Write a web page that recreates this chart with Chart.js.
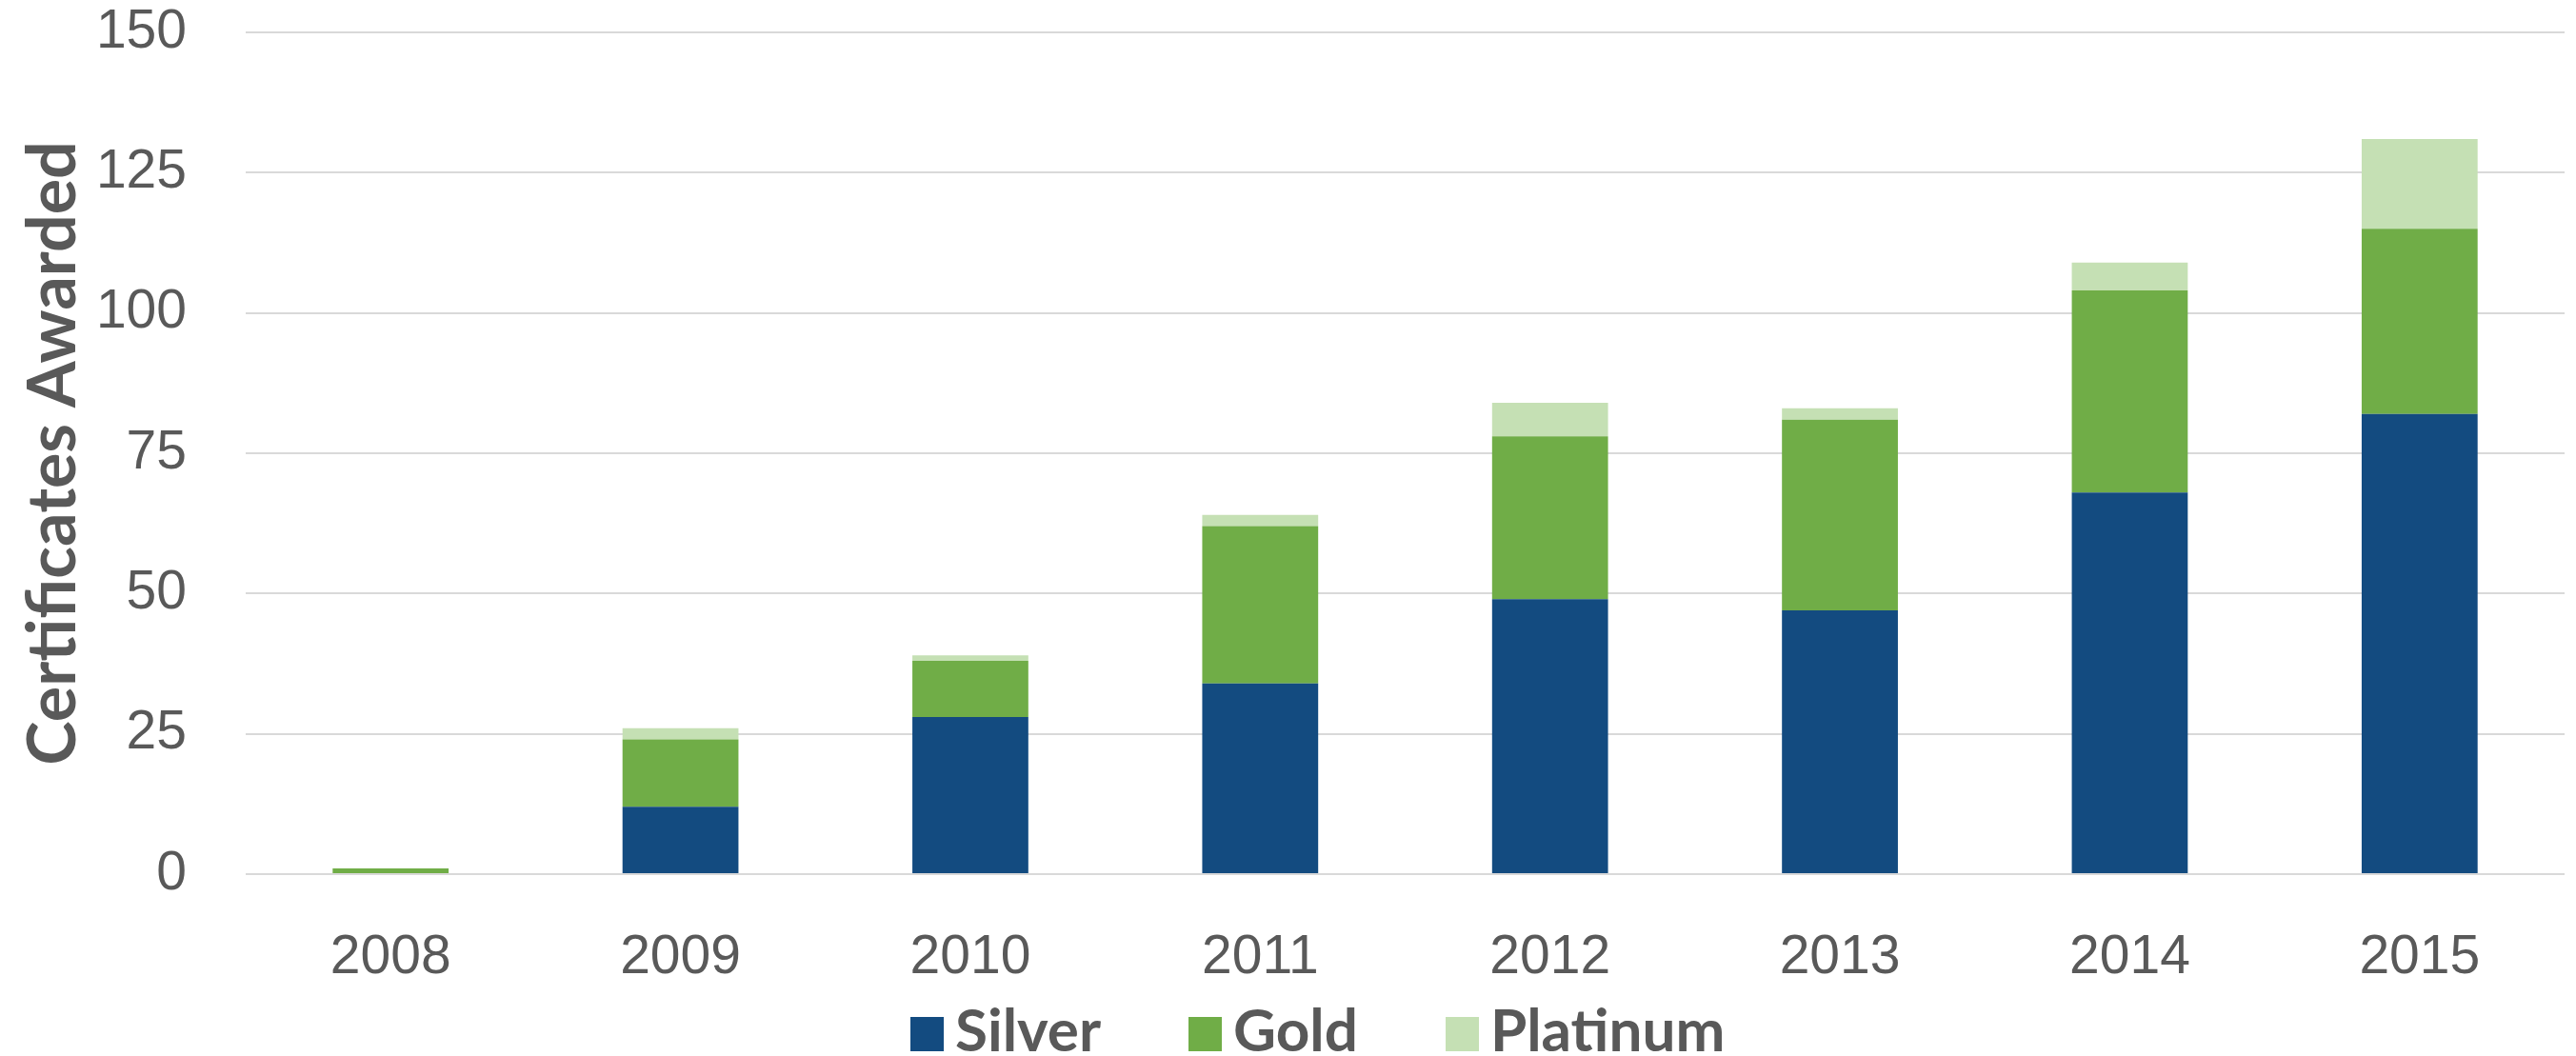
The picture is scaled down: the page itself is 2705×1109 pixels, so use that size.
<!DOCTYPE html>
<html>
<head>
<meta charset="utf-8">
<script src="https://cdn.jsdelivr.net/npm/chart.js@4"></script>
<style>
  html, body { margin: 0; padding: 0; background: #fff; overflow: hidden; }
  #wrap { position: relative; width: 2705px; height: 1109px; }
  #legend {
    position: absolute; left: 956px; top: 1046px;
    display: flex; white-space: nowrap;
    font: bold 62px Lato, "Liberation Sans", sans-serif;
    line-height: 68px; color: #595959;
  }
  #legend .item { margin-right: 92px; }
  #legend .box { display: inline-block; width: 35px; height: 36px; margin-right: 12px; vertical-align: baseline; }
</style>
</head>
<body>
<div id="wrap">
  <canvas id="myChart"></canvas>
  <div id="legend"></div>
</div>
<script>
const years = ["2008", "2009", "2010", "2011", "2012", "2013", "2014", "2015"];
const silver = [0, 12, 28, 34, 49, 47, 68, 82];
const gold = [1, 12, 10, 28, 29, 34, 36, 33];
const platinum = [0, 2, 1, 2, 6, 2, 5, 16];
const seriesNames = ["Silver", "Gold", "Platinum"];
const seriesColors = ["#134b80", "#70ad47", "#c5e0b4"];
const yTicks = [0, 25, 50, 75, 100, 125, 150];

const textColor = "#595959";
const numFont = '"Liberation Sans", Arial, sans-serif';
const boldFont = 'Lato, "Liberation Sans", sans-serif';

const seriesValues = [silver, gold, platinum];

new Chart("myChart", {
  type: "bar",
  data: {
    labels: years,
    datasets: seriesNames.map((name, i) => ({
      label: name,
      data: seriesValues[i],
      backgroundColor: seriesColors[i],
      borderWidth: 0,
      barPercentage: 0.4,
      categoryPercentage: 1
    }))
  },
  options: {
    responsive: true,
    maintainAspectRatio: false,
    animation: false,
    layout: { padding: { top: 34, right: 12, bottom: 0, left: 0 } },
    plugins: {
      legend: { display: false },
      tooltip: { enabled: false }
    },
    scales: {
      x: {
        stacked: true,
        grid: { display: false, drawTicks: false },
        border: { display: false },
        ticks: {
          color: textColor,
          font: { family: numFont, size: 57, lineHeight: 1 },
          padding: 60,
          maxRotation: 0
        },
        afterFit: s => { s.height = 191; }
      },
      y: {
        stacked: true,
        min: 0,
        max: 150,
        afterBuildTicks: s => { s.ticks = yTicks.map(v => ({ value: v })); },
        grid: { color: "#d9d9d9", lineWidth: 2, drawTicks: false },
        border: { display: false },
        ticks: {
          color: textColor,
          font: { family: numFont, size: 57, lineHeight: 1 },
          padding: 62
        },
        title: {
          display: true,
          text: "Certificates Awarded",
          color: textColor,
          font: { family: boldFont, size: 70, weight: "bold", lineHeight: 1 },
          padding: { top: 21, bottom: 0 }
        },
        afterFit: s => {
          s.width = 258;
          s.paddingTop = 0;
          s.paddingBottom = 0;
        }
      }
    }
  }
});

// legend below the chart
const legend = document.getElementById("legend");
seriesNames.forEach((name, i) => {
  const item = document.createElement("span");
  item.className = "item";
  item.innerHTML = '<span class="box" style="background:' + seriesColors[i] + '"></span>' + name;
  legend.appendChild(item);
});
</script>
</body>
</html>
